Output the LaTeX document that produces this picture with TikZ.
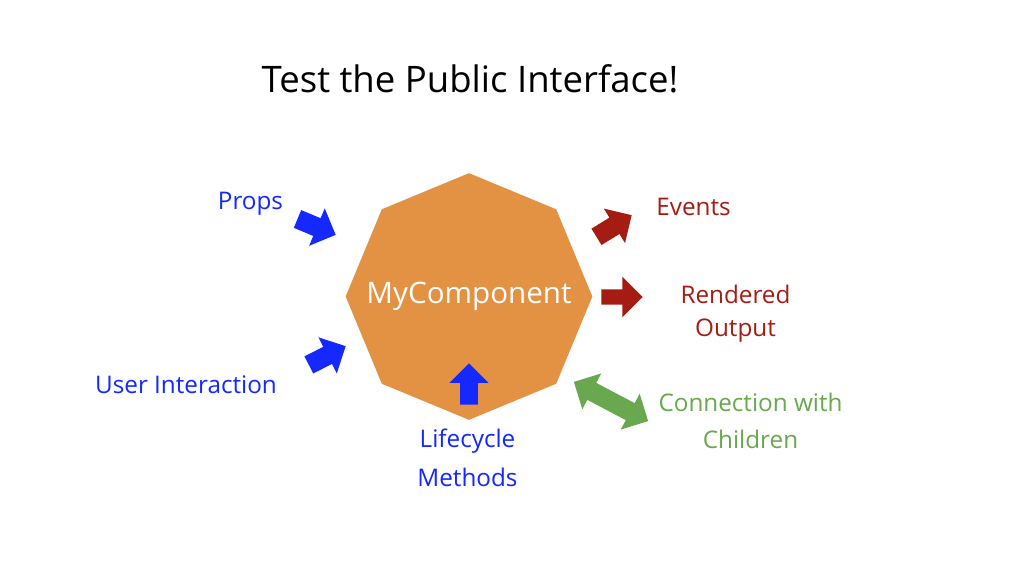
\documentclass[tikz,border=0pt]{standalone}
\usepackage{fontspec}
\setmainfont{Open Sans}
\usepackage{tikz}
\usetikzlibrary{shapes.geometric, shapes.arrows, positioning}
\definecolor{comporange}{HTML}{E39142}
\definecolor{inblue}{HTML}{1428FF}
\definecolor{outred}{HTML}{A51D12}
\definecolor{kidgreen}{HTML}{6AA84F}

\begin{document}
\begin{tikzpicture}[x=0.75pt, y=-0.75pt,
  lbl/.style={font=\fontsize{18.2}{24}\selectfont, align=center, anchor=base, inner sep=0pt},
  blockarrow/.style={single arrow, draw=none, inner sep=7pt, single arrow head extend=8pt, minimum height=31pt, anchor=tip},
  twoarrow/.style={double arrow, draw=none, inner sep=7pt, double arrow head extend=8pt, minimum height=63pt}
]
  \fill[white] (0,0) rectangle (1024,566);
  \useasboundingbox (0,0) rectangle (1024,566);

  \node[font=\fontsize{27.4}{30}\selectfont, anchor=base, inner sep=0pt] (title) at (470,93) {Test the Public Interface!};

  % the component
  \node[regular polygon, regular polygon sides=8, shape border rotate=22.5, minimum size=185pt, inner sep=0pt, outer sep=0pt,
        fill=comporange] (comp) at (469,296.5) {};
  \node[text=white, font=\fontsize{22.2}{24}\selectfont, inner sep=0pt] (compname) at (comp.center) {MyComponent};

  % inputs
  \node[blockarrow, fill=inblue, rotate=-22.6] (propsarrow) at (336,235) {};
  \node[blockarrow, fill=inblue, rotate=27] (userarrow) at (346,346) {};
  \node[blockarrow, fill=inblue, rotate=90, inner sep=6.5pt] (lifearrow) at (469,363) {};
  \node[lbl, text=inblue] (props) at (250.5,210) {Props};
  \node[lbl, text=inblue] (user) at (186,393) {User Interaction};
  \node[lbl, text=inblue, font=\fontsize{18.2}{29.25}\selectfont] (life) at (467.5,486) {Lifecycle\\Methods};

  % outputs
  \node[blockarrow, fill=outred, rotate=31.6] (eventsarrow) at (632,215) {};
  \node[blockarrow, fill=outred, inner sep=5.6pt, single arrow head extend=9.4pt] (renderarrow) at (643,297) {};
  \node[lbl, text=outred] (events) at (693.5,216) {Events};
  \node[lbl, text=outred, font=\fontsize{18.2}{24.75}\selectfont] (render) at (735.5,337) {Rendered\\Output};

  % children
  \node[twoarrow, fill=kidgreen, rotate=-27.8] (kidarrow) at (611,401.5) {};
  \node[lbl, text=kidgreen, font=\fontsize{18.2}{27.75}\selectfont] (kids) at (750.5,448) {Connection with\\Children};
\end{tikzpicture}
\end{document}
